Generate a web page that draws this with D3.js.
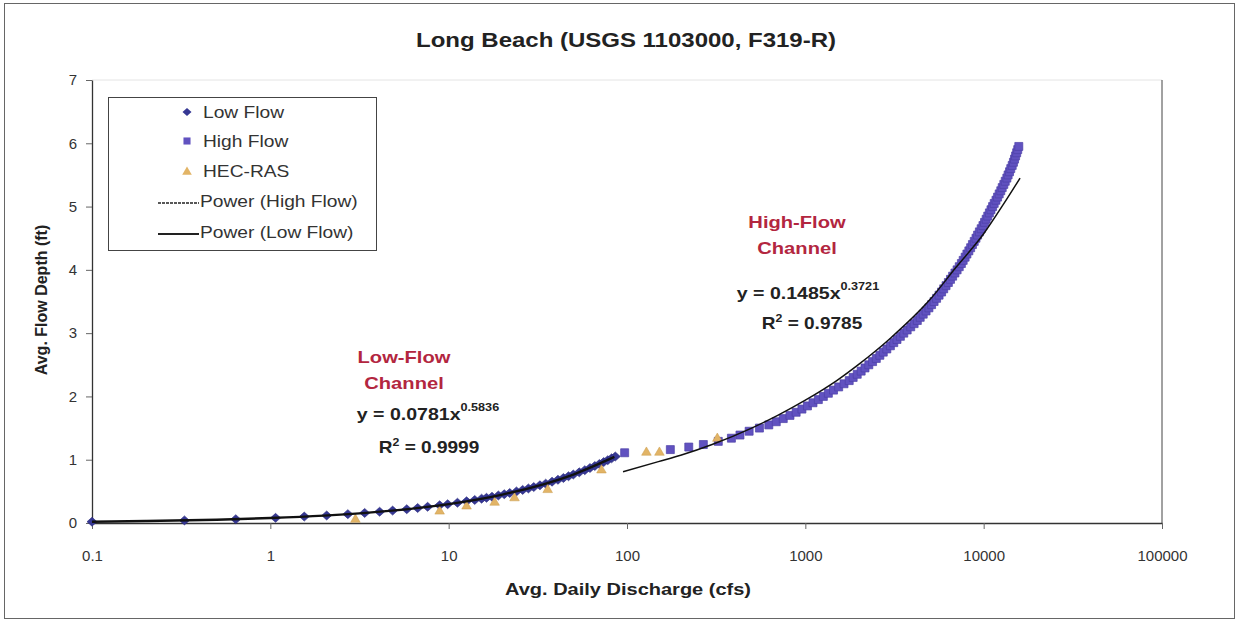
<!DOCTYPE html>
<html><head><meta charset="utf-8">
<script src="https://cdn.jsdelivr.net/npm/d3@7"></script>
<style>body{margin:0;background:#fff;} svg{display:block;font-family:"Liberation Sans",Arial,sans-serif;}</style>
</head><body>
<svg id="c" width="1239" height="624"></svg>
<script>
// ---- data ----
const xTickValues = [0.1, 1, 10, 100, 1000, 10000, 100000];
const xTickLabels = ["0.1", "1", "10", "100", "1000", "10000", "100000"];
const yTickValues = [0, 1, 2, 3, 4, 5, 6, 7];

const lowFlowX = [0.1, 0.33, 0.64, 1.07, 1.55, 2.07, 2.72, 3.38, 4.10, 4.85, 5.82, 6.70, 7.62, 8.9, 9.87, 11.2, 12.6, 14.0, 15.3, 16.3, 17.5, 19, 20.5, 22, 24, 26, 28, 30, 32.5, 35, 38, 41, 44, 47, 50, 54, 58, 62, 66, 70, 74, 78, 82, 86];
const lowFlowY = [0.020, 0.041, 0.060, 0.081, 0.101, 0.119, 0.140, 0.159, 0.178, 0.196, 0.218, 0.237, 0.256, 0.280, 0.297, 0.320, 0.343, 0.364, 0.384, 0.398, 0.415, 0.435, 0.455, 0.474, 0.499, 0.523, 0.546, 0.568, 0.596, 0.622, 0.653, 0.683, 0.711, 0.739, 0.766, 0.801, 0.835, 0.869, 0.901, 0.932, 0.963, 0.993, 1.022, 1.051];

const highFlowX = [97, 175, 222, 268, 325, 385, 430, 484, 553, 624, 687, 752, 820, 888, 957, 1028, 1104, 1183, 1262, 1346, 1439, 1538, 1648, 1762, 1854, 1954, 2056, 2161, 2270, 2383, 2500, 2618, 2735, 2864, 2999, 3133, 3266, 3412, 3565, 3724, 3899, 4074, 4246, 4406, 4581, 4753, 4932, 5105, 5272, 5445, 5623, 5808, 5970, 6152, 6339, 6516, 6699, 6902, 7096, 7295, 7499, 7674, 7870, 8054, 8260, 8453, 8650, 8851, 9057, 9247, 9462, 9683, 9908, 10116, 10328, 10544, 10765, 10990, 11220, 11455, 11722, 11967, 12218, 12474, 12706, 12972, 13213, 13490, 13709, 13964, 14191, 14454, 14689, 14894, 15101, 15311, 15524, 15740];
const highFlowY = [1.11, 1.16, 1.20, 1.24, 1.29, 1.34, 1.39, 1.45, 1.50, 1.55, 1.60, 1.65, 1.70, 1.75, 1.80, 1.85, 1.90, 1.95, 2.00, 2.05, 2.10, 2.15, 2.20, 2.25, 2.30, 2.35, 2.40, 2.45, 2.50, 2.55, 2.60, 2.65, 2.70, 2.75, 2.80, 2.85, 2.90, 2.95, 3.00, 3.05, 3.10, 3.15, 3.20, 3.25, 3.30, 3.35, 3.40, 3.45, 3.50, 3.55, 3.60, 3.65, 3.70, 3.75, 3.80, 3.85, 3.90, 3.95, 4.00, 4.05, 4.10, 4.15, 4.20, 4.25, 4.30, 4.35, 4.40, 4.45, 4.50, 4.55, 4.60, 4.65, 4.70, 4.75, 4.80, 4.85, 4.90, 4.95, 5.00, 5.05, 5.10, 5.15, 5.20, 5.25, 5.30, 5.35, 5.40, 5.45, 5.50, 5.55, 5.60, 5.65, 5.70, 5.75, 5.80, 5.85, 5.90, 5.95];

const hecRasX = [3.0, 8.9, 12.6, 18.1, 23.4, 35.9, 71.9, 128.5, 152, 321];
const hecRasY = [0.07, 0.20, 0.28, 0.34, 0.41, 0.54, 0.85, 1.13, 1.13, 1.35];

// trendline points
const powerLowX = [0.1, 0.2, 0.5, 1, 2, 5, 10, 20, 50, 85];
const powerLowY = [0.020, 0.031, 0.052, 0.078, 0.117, 0.200, 0.299, 0.449, 0.766, 1.044];
const powerHighX = [95, 150, 200, 300, 500, 700, 1000, 1500, 2000, 3000, 5000, 7000, 10000, 13000, 16000];
const powerHighY = [0.81, 0.97, 1.07, 1.24, 1.50, 1.70, 1.94, 2.25, 2.51, 2.92, 3.53, 4.04, 4.57, 5.05, 5.45];

const legendLabels = ["Low Flow", "High Flow", "HEC-RAS", "Power (High Flow)", "Power (Low Flow)"];

// ---- chart ----
const svg = d3.select("#c");
const x = d3.scaleLog().domain([0.1, 100000]).range([92, 1162]);
const y = d3.scaleLinear().domain([0, 7]).range([523, 80]);
const SX = 1.22; // horizontal stretch of the scanned text

// outer frame
svg.append("rect").attr("x", 4.5).attr("y", 3.5).attr("width", 1230).attr("height", 615)
  .attr("fill", "none").attr("stroke", "#666").attr("stroke-width", 1);

// plot area border (top faint, right dark)
svg.append("line").attr("x1", x(0.1)).attr("x2", x(100000)).attr("y1", y(7)).attr("y2", y(7))
  .attr("stroke", "#e4e4e4");
svg.append("line").attr("x1", x(100000)).attr("x2", x(100000)).attr("y1", y(7)).attr("y2", y(0))
  .attr("stroke", "#444");

// axes
const xAxis = svg.append("g").attr("transform", `translate(0,${y(0)})`)
  .call(d3.axisBottom(x).tickValues(xTickValues).tickFormat((d, i) => xTickLabels[i]).tickSize(6).tickPadding(21).tickSizeOuter(0));
const yAxis = svg.append("g").attr("transform", `translate(${x(0.1)},0)`)
  .call(d3.axisLeft(y).tickValues(yTickValues).tickFormat(d3.format("d")).tickSize(6).tickPadding(9).tickSizeOuter(0));
[xAxis, yAxis].forEach(g => {
  g.select(".domain").attr("stroke", "#333").attr("stroke-width", 1.3);
  g.selectAll(".tick line").attr("stroke", "#666");
  g.selectAll("text").attr("font-size", 15).attr("fill", "#333").attr("font-family", "Liberation Sans, Arial, sans-serif");
});

function txt(cx, cy, str, size, opts = {}) {
  const t = svg.append("text").attr("transform", `translate(${cx},${cy}) scale(${opts.sx || SX},1)`)
    .attr("text-anchor", opts.anchor || "middle").attr("font-size", size)
    .attr("font-weight", opts.weight || "bold").attr("fill", opts.fill || "#222");
  if (str !== null) t.text(str);
  return t;
}

// title and axis titles
txt(626, 47, "Long Beach (USGS 1103000, F319-R)", 20, { sx: 1.2 });
txt(628, 595, "Avg. Daily Discharge (cfs)", 16, { sx: 1.25 });
svg.append("text").attr("transform", "translate(47,300) rotate(-90)").attr("text-anchor", "middle")
  .attr("font-size", 16).attr("font-weight", "bold").attr("fill", "#222").text("Avg. Flow Depth (ft)");

// series
const lowColor = "#363894", highColor = "#6152c0", hecColor = "#e2b466";
const diamondPath = (w, h) => `M0,${-h / 2}L${w / 2},0L0,${h / 2}L${-w / 2},0Z`;
const square = d3.symbol().type(d3.symbolSquare).size(64);
const triangle = d3.symbol().type(d3.symbolTriangle).size(40);

svg.append("g").selectAll("path").data(d3.range(lowFlowX.length)).join("path")
  .attr("d", diamondPath(10, 9)).attr("transform", i => `translate(${x(lowFlowX[i])},${y(lowFlowY[i])})`)
  .attr("fill", lowColor).attr("stroke", "#25257a").attr("stroke-width", 0.6);
svg.append("g").selectAll("path").data(d3.range(highFlowX.length)).join("path")
  .attr("d", square).attr("transform", i => `translate(${x(highFlowX[i])},${y(highFlowY[i])})`)
  .attr("fill", highColor).attr("stroke", "#4d40a8").attr("stroke-width", 0.7);
svg.append("g").selectAll("path").data(d3.range(hecRasX.length)).join("path")
  .attr("d", triangle).attr("transform", i => `translate(${x(hecRasX[i])},${y(hecRasY[i]) + 1})`)
  .attr("fill", hecColor).attr("stroke", "#c99a4a").attr("stroke-width", 0.5);

// trendlines
const line = d3.line().x(d => x(d[0])).y(d => y(d[1])).curve(d3.curveMonotoneX);
svg.append("path").datum(powerLowX.map((v, i) => [v, powerLowY[i]])).attr("d", line)
  .attr("fill", "none").attr("stroke", "#111").attr("stroke-width", 2.4);
svg.append("path").datum(powerHighX.map((v, i) => [v, powerHighY[i]])).attr("d", line)
  .attr("fill", "none").attr("stroke", "#111").attr("stroke-width", 1.5);

// annotations
const red = "#b3263f";
function eq(cx, yy, base, exp) {
  const t = txt(cx, yy, null, 17, { sx: 1.15 });
  t.append("tspan").text(base);
  t.append("tspan").attr("dy", -9).attr("font-size", 11).text(exp);
}
function r2(cx, yy, val) {
  const t = txt(cx, yy, null, 17, { sx: 1.12 });
  t.append("tspan").text("R");
  t.append("tspan").attr("dy", -7).attr("font-size", 11).text("2");
  t.append("tspan").attr("dy", 7).text(" = " + val);
}
txt(404, 363, "Low-Flow", 16, { sx: 1.26, fill: red });
txt(404, 389, "Channel", 16, { sx: 1.26, fill: red });
eq(428, 420, "y = 0.0781x", "0.5836");
r2(429, 453, "0.9999");
txt(797, 228, "High-Flow", 16, { sx: 1.26, fill: red });
txt(797, 254, "Channel", 16, { sx: 1.26, fill: red });
eq(808, 299, "y = 0.1485x", "0.3721");
r2(812, 329, "0.9785");

// legend
const lg = svg.append("g");
lg.append("rect").attr("x", 108.5).attr("y", 97.5).attr("width", 268).attr("height", 153)
  .attr("fill", "#fff").attr("stroke", "#444").attr("stroke-width", 1);
const ly = [112, 141, 171, 201, 232];
lg.append("path").attr("d", diamondPath(9, 8)).attr("transform", `translate(187,${ly[0]})`).attr("fill", lowColor);
lg.append("path").attr("d", d3.symbol().type(d3.symbolSquare).size(50)).attr("transform", `translate(187,${ly[1]})`).attr("fill", highColor);
lg.append("path").attr("d", triangle).attr("transform", `translate(187,${ly[2] + 1})`).attr("fill", hecColor);
lg.append("line").attr("x1", 158).attr("x2", 199).attr("y1", ly[3] + 2).attr("y2", ly[3] + 2)
  .attr("stroke", "#222").attr("stroke-width", 1.6).attr("stroke-dasharray", "3,1");
lg.append("line").attr("x1", 158).attr("x2", 199).attr("y1", ly[4] + 2).attr("y2", ly[4] + 2)
  .attr("stroke", "#222").attr("stroke-width", 2);
legendLabels.forEach((t, i) => {
  lg.append("text").attr("transform", `translate(${i < 3 ? 203 : 200},${ly[i] + 6}) scale(1.2,1)`)
    .attr("font-size", 16).attr("fill", "#333").text(t);
});
</script>
</body></html>
